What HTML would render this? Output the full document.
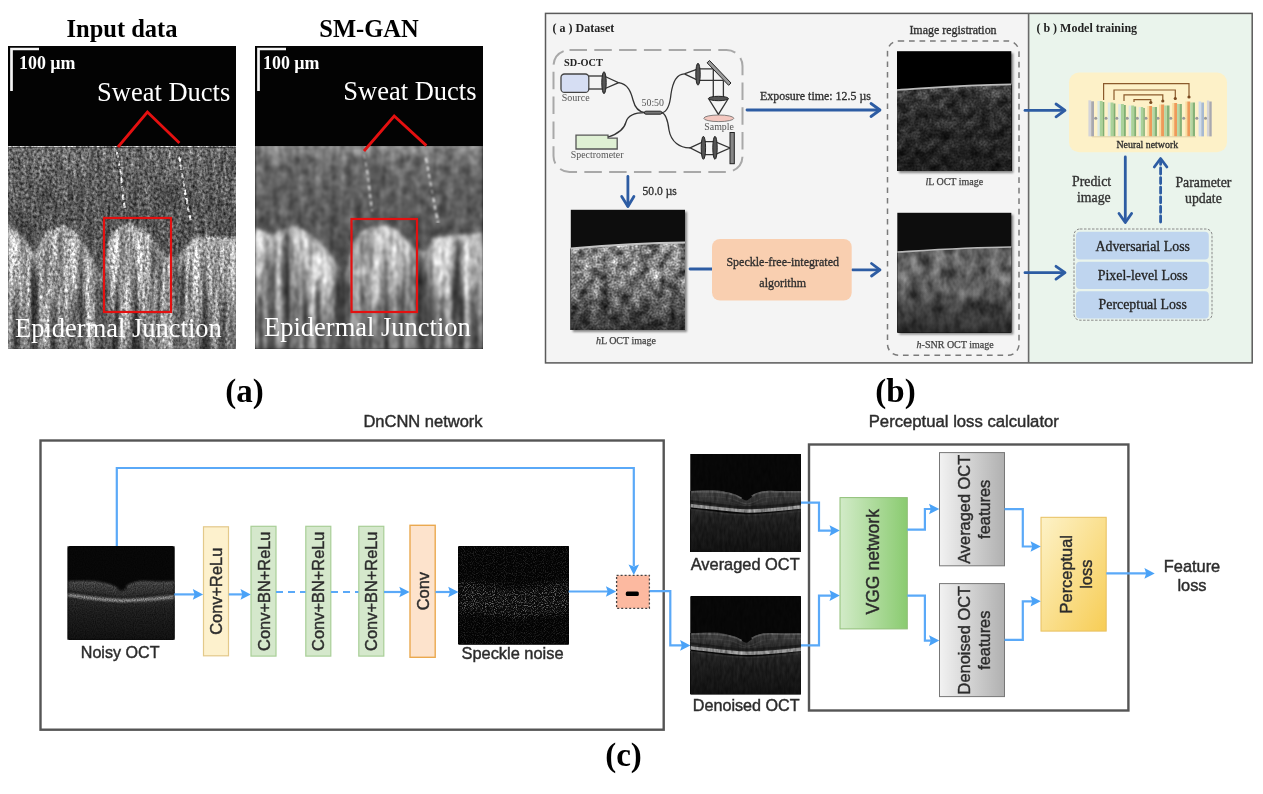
<!DOCTYPE html>
<html><head><meta charset="utf-8">
<style>
html,body{margin:0;padding:0;background:#fff;}
body{width:1263px;height:794px;overflow:hidden;position:relative;}
svg{position:absolute;left:0;top:0;filter:blur(0.35px);}
.serif{font-family:"Liberation Serif",serif;}
.sans{font-family:"Liberation Sans",sans-serif;}
</style></head>
<body>
<svg width="1263" height="794" viewBox="0 0 1263 794">
<defs>
  <filter id="fA" x="0" y="0" width="100%" height="100%" color-interpolation-filters="sRGB">
    <feTurbulence type="fractalNoise" baseFrequency="0.13 0.008" numOctaves="2" seed="7" result="t1"/>
    <feColorMatrix in="t1" type="matrix" values="1 0 0 0 0  1 0 0 0 0  1 0 0 0 0  0 0 0 0 1" result="g1"/>
    <feComposite in="SourceGraphic" in2="g1" operator="arithmetic" k1="1.9" k2="0.05" k3="0" k4="0" result="s1"/>
    <feTurbulence type="fractalNoise" baseFrequency="0.4 0.3" numOctaves="2" seed="3" result="t2"/>
    <feColorMatrix in="t2" type="matrix" values="1 0 0 0 0  1 0 0 0 0  1 0 0 0 0  0 0 0 0 1" result="g2"/>
    <feComposite in="s1" in2="g2" operator="arithmetic" k1="1.5" k2="0.25" k3="0" k4="0" result="s2"/>
    <feGaussianBlur in="s2" stdDeviation="0.6"/>
  </filter>
  <filter id="fAe" x="0" y="0" width="100%" height="100%" color-interpolation-filters="sRGB">
    <feTurbulence type="fractalNoise" baseFrequency="0.2 0.03" numOctaves="2" seed="17" result="t1"/>
    <feColorMatrix in="t1" type="matrix" values="1 0 0 0 0  1 0 0 0 0  1 0 0 0 0  0 0 0 0 1" result="g1"/>
    <feComposite in="SourceGraphic" in2="g1" operator="arithmetic" k1="0.8" k2="0.6" k3="0" k4="0" result="s1"/>
    <feTurbulence type="fractalNoise" baseFrequency="0.38 0.33" numOctaves="2" seed="3" result="t2"/>
    <feColorMatrix in="t2" type="matrix" values="1 0 0 0 0  1 0 0 0 0  1 0 0 0 0  0 0 0 0 1" result="g2"/>
    <feComposite in="s1" in2="g2" operator="arithmetic" k1="1.9" k2="0.05" k3="0" k4="0" result="s2"/>
    <feGaussianBlur in="s2" stdDeviation="0.55"/>
  </filter>
  <filter id="fA2" x="0" y="0" width="100%" height="100%" color-interpolation-filters="sRGB">
    <feTurbulence type="fractalNoise" baseFrequency="0.16 0.012" numOctaves="2" seed="7" result="t1"/>
    <feColorMatrix in="t1" type="matrix" values="1 0 0 0 0  1 0 0 0 0  1 0 0 0 0  0 0 0 0 1" result="g1"/>
    <feComposite in="SourceGraphic" in2="g1" operator="arithmetic" k1="0.45" k2="0.78" k3="0" k4="0" result="s1"/>
    <feTurbulence type="fractalNoise" baseFrequency="0.12 0.1" numOctaves="2" seed="13" result="t2"/>
    <feColorMatrix in="t2" type="matrix" values="1 0 0 0 0  1 0 0 0 0  1 0 0 0 0  0 0 0 0 1" result="g2"/>
    <feComposite in="s1" in2="g2" operator="arithmetic" k1="1.0" k2="0.5" k3="0" k4="0" result="s2"/>
    <feGaussianBlur in="s2" stdDeviation="0.9"/>
  </filter>
  <filter id="fB" x="0" y="0" width="100%" height="100%" color-interpolation-filters="sRGB">
    <feTurbulence type="fractalNoise" baseFrequency="0.11 0.007" numOctaves="2" seed="9" result="t1"/>
    <feColorMatrix in="t1" type="matrix" values="1 0 0 0 0  1 0 0 0 0  1 0 0 0 0  0 0 0 0 1" result="g1"/>
    <feComposite in="SourceGraphic" in2="g1" operator="arithmetic" k1="1.8" k2="0.1" k3="0" k4="0" result="s1"/>
    <feTurbulence type="fractalNoise" baseFrequency="0.2 0.1" numOctaves="2" seed="13" result="t2"/>
    <feColorMatrix in="t2" type="matrix" values="1 0 0 0 0  1 0 0 0 0  1 0 0 0 0  0 0 0 0 1" result="g2"/>
    <feComposite in="s1" in2="g2" operator="arithmetic" k1="0.8" k2="0.6" k3="0" k4="0" result="s2"/>
    <feGaussianBlur in="s2" stdDeviation="0.9"/>
  </filter>
  <filter id="fMott" x="0" y="0" width="100%" height="100%" color-interpolation-filters="sRGB">
    <feTurbulence type="fractalNoise" baseFrequency="0.1" numOctaves="3" seed="11" result="t1"/>
    <feColorMatrix in="t1" type="matrix" values="1 0 0 0 0  1 0 0 0 0  1 0 0 0 0  0 0 0 0 1" result="g1"/>
    <feComposite in="SourceGraphic" in2="g1" operator="arithmetic" k1="2.0" k2="0" k3="0" k4="0" result="s1"/>
    <feTurbulence type="fractalNoise" baseFrequency="0.5" numOctaves="1" seed="5" result="t2"/>
    <feColorMatrix in="t2" type="matrix" values="1 0 0 0 0  1 0 0 0 0  1 0 0 0 0  0 0 0 0 1" result="g2"/>
    <feComposite in="s1" in2="g2" operator="arithmetic" k1="1.1" k2="0.45" k3="0" k4="0" result="s2"/>
    <feGaussianBlur in="s2" stdDeviation="0.75"/>
  </filter>
  <filter id="fMottS" x="0" y="0" width="100%" height="100%" color-interpolation-filters="sRGB">
    <feTurbulence type="fractalNoise" baseFrequency="0.09 0.06" numOctaves="3" seed="12" result="t1"/>
    <feColorMatrix in="t1" type="matrix" values="1 0 0 0 0  1 0 0 0 0  1 0 0 0 0  0 0 0 0 1" result="g1"/>
    <feComposite in="SourceGraphic" in2="g1" operator="arithmetic" k1="1.5" k2="0.25" k3="0" k4="0" result="s1"/>
    <feGaussianBlur in="s1" stdDeviation="0.7"/>
  </filter>
  <filter id="fRet" x="0" y="0" width="100%" height="100%" color-interpolation-filters="sRGB">
    <feGaussianBlur in="SourceGraphic" stdDeviation="0.7" result="b"/>
    <feTurbulence type="fractalNoise" baseFrequency="0.35 0.12" numOctaves="2" seed="4" result="t1"/>
    <feColorMatrix in="t1" type="matrix" values="1 0 0 0 0  1 0 0 0 0  1 0 0 0 0  0 0 0 0 1" result="g1"/>
    <feComposite in="b" in2="g1" operator="arithmetic" k1="0.9" k2="0.55" k3="0" k4="0"/>
  </filter>
  <filter id="fRetN" x="0" y="0" width="100%" height="100%" color-interpolation-filters="sRGB">
    <feGaussianBlur in="SourceGraphic" stdDeviation="0.9" result="b"/>
    <feTurbulence type="fractalNoise" baseFrequency="0.9 0.7" numOctaves="1" seed="9" result="t1"/>
    <feColorMatrix in="t1" type="matrix" values="1 0 0 0 0  1 0 0 0 0  1 0 0 0 0  0 0 0 0 1" result="g1"/>
    <feComposite in="b" in2="g1" operator="arithmetic" k1="1.4" k2="0.3" k3="0" k4="0"/>
  </filter>
  <filter id="fSpk" x="0" y="0" width="100%" height="100%" color-interpolation-filters="sRGB">
    <feTurbulence type="fractalNoise" baseFrequency="0.9" numOctaves="1" seed="21" result="t1"/>
    <feColorMatrix in="t1" type="matrix" values="1 0 0 0 0  1 0 0 0 0  1 0 0 0 0  0 0 0 0 1" result="g1"/>
    <feComponentTransfer in="g1" result="g2"><feFuncR type="linear" slope="4.5" intercept="-2.2"/><feFuncG type="linear" slope="4.5" intercept="-2.2"/><feFuncB type="linear" slope="4.5" intercept="-2.2"/></feComponentTransfer>
    <feComposite in="SourceGraphic" in2="g2" operator="arithmetic" k1="2.2" k2="0.2" k3="0" k4="0" result="r"/>
    <feGaussianBlur in="r" stdDeviation="0.35"/>
  </filter>
  <linearGradient id="gChor" x1="0" y1="0" x2="0" y2="1">
    <stop offset="0" stop-color="#262626"/><stop offset="0.35" stop-color="#1c1c1c"/><stop offset="1" stop-color="#111"/>
  </linearGradient>
  <linearGradient id="gInner" x1="0" y1="0" x2="0" y2="1">
    <stop offset="0" stop-color="#3e3e3e"/><stop offset="0.5" stop-color="#313131"/><stop offset="1" stop-color="#1e1e1e"/>
  </linearGradient>
  <g id="retinaBase">
    <rect width="110" height="98" fill="#070707"/>
    <path d="M0,55 C30,57 45,62 56,61 C70,60 90,58 110,55 L110,98 L0,98Z" fill="url(#gChor)"/>
    <path d="M0,37 C10,36.5 20,36 28,36.5 C36,37.5 42,40 48,42.5 C51,44.5 54,46.5 56,46.5 C58,46 61,42.5 66,39.5 C70,37.2 74,36.5 80,36.8 C90,37.5 100,37.5 110,37 L110,52 C90,55 70,56.5 56,56.5 C40,56 20,52 0,49.5Z" fill="url(#gInner)"/>
    <path d="M1,37.8 C20,37 36,38.2 44,41 C47,42.3 49,43.5 51,44.5 M61,42.3 C66,39 72,37.4 80,37.6 C95,38.2 100,38 110,37.8" stroke="#565656" stroke-width="1.8" fill="none"/>
    <path d="M0,42 C15,42 30,42.5 40,44.5 C48,47 52,49.5 56,50 C62,49.5 66,46.5 72,44 C82,42 96,42.2 110,42" stroke="#3e3e3e" stroke-width="1.2" fill="none"/>
    <path d="M0,45 C15,45.5 30,46.5 40,48 C48,50 52,51.5 56,51.8 C62,51.5 66,50 72,48 C82,46 96,45.8 110,45.5" stroke="#353535" stroke-width="1" fill="none"/>
    <path d="M0,47.3 C20,49.3 35,51.8 50,53.3 C65,53.8 85,51.8 110,49.3" stroke="#1c1c1c" stroke-width="2" fill="none"/>
    <path d="M0,51.5 C20,53.5 38,56.5 56,57 C75,57 92,55 110,53" stroke="#8e8e8e" stroke-width="3.4" fill="none"/>
    <path d="M0,55.6 C20,58 38,60.6 56,61.1 C75,61.1 92,59.1 110,57.1" stroke="#2c2c2c" stroke-width="1.6" fill="none"/>
  </g>
  <linearGradient id="gSkinL" x1="0" y1="0" x2="0" y2="1">
    <stop offset="0" stop-color="#484848"/><stop offset="0.2" stop-color="#303030"/><stop offset="1" stop-color="#1e1e1e"/>
  </linearGradient>
  <linearGradient id="gSkinH" x1="0" y1="0" x2="0" y2="1">
    <stop offset="0" stop-color="#8a8a8a"/><stop offset="0.35" stop-color="#7a7a7a"/><stop offset="0.7" stop-color="#585858"/><stop offset="1" stop-color="#303030"/>
  </linearGradient>
  <linearGradient id="gSkinS" x1="0" y1="0" x2="0" y2="1">
    <stop offset="0" stop-color="#606060"/><stop offset="0.35" stop-color="#646464"/><stop offset="0.7" stop-color="#464646"/><stop offset="1" stop-color="#2a2a2a"/>
  </linearGradient>
  <linearGradient id="bandG" x1="0" y1="0" x2="0" y2="1"><stop offset="0" stop-color="#3c3c3c" stop-opacity="0"/><stop offset="0.3" stop-color="#3c3c3c" stop-opacity="1"/><stop offset="1" stop-color="#3c3c3c" stop-opacity="0.9"/></linearGradient>
  <linearGradient id="bandG2" x1="0" y1="0" x2="0" y2="1"><stop offset="0" stop-color="#4a4a4a" stop-opacity="0"/><stop offset="0.3" stop-color="#4a4a4a" stop-opacity="1"/><stop offset="1" stop-color="#4a4a4a" stop-opacity="0.9"/></linearGradient>
  <filter id="blur3" x="-10%" y="-30%" width="120%" height="160%"><feGaussianBlur stdDeviation="3.5"/></filter>
  <filter id="blur15" x="-5%" y="-5%" width="110%" height="110%"><feGaussianBlur stdDeviation="1.8"/></filter>
  <filter id="shadow" x="-10%" y="-10%" width="125%" height="125%">
    <feGaussianBlur in="SourceAlpha" stdDeviation="1.2"/>
    <feOffset dx="1.5" dy="1.5" result="o"/>
    <feComponentTransfer in="o" result="o2"><feFuncA type="linear" slope="0.45"/></feComponentTransfer>
    <feMerge><feMergeNode in="o2"/><feMergeNode in="SourceGraphic"/></feMerge>
  </filter>
  <linearGradient id="dermA" x1="0" y1="0" x2="0" y2="1">
    <stop offset="0" stop-color="#b4b4b4"/><stop offset="0.45" stop-color="#9a9a9a"/><stop offset="1" stop-color="#787878"/>
  </linearGradient>
  <linearGradient id="epiA" x1="0" y1="0" x2="0" y2="1">
    <stop offset="0" stop-color="#6c6c6c"/><stop offset="0.25" stop-color="#585858"/><stop offset="1" stop-color="#505050"/>
  </linearGradient>
  <linearGradient id="dermB" x1="0" y1="0" x2="0" y2="1">
    <stop offset="0" stop-color="#bcbcbc"/><stop offset="0.45" stop-color="#a0a0a0"/><stop offset="1" stop-color="#7a7a7a"/>
  </linearGradient>
  <linearGradient id="epiB" x1="0" y1="0" x2="0" y2="1">
    <stop offset="0" stop-color="#8c8c8c"/><stop offset="0.07" stop-color="#6a6a6a"/><stop offset="0.3" stop-color="#5c5c5c"/><stop offset="0.5" stop-color="#505050"/><stop offset="1" stop-color="#4a4a4a"/>
  </linearGradient>
</defs>

<!-- ============ PANEL A ============ -->
<g id="panelA">
  <text x="122" y="36.5" class="serif" font-weight="bold" font-size="24.5" text-anchor="middle">Input data</text>
  <text x="369" y="36.5" class="serif" font-weight="bold" font-size="24.5" text-anchor="middle">SM-GAN</text>

  <!-- left OCT -->
  <defs>
    <g id="baseL">
      <rect x="0" y="100" width="228" height="203" fill="url(#epiA)"/>
      <g filter="url(#blur15)">
        <path d="M0.0,177.4 C2.3,179.5 9.5,185.2 14.0,190.0 C18.5,194.8 23.7,206.2 27.0,206.5 C30.3,206.8 31.5,195.6 34.0,192.0 C36.5,188.4 37.3,186.8 42.0,185.0 C46.7,183.2 55.5,177.4 62.0,181.0 C68.5,184.6 75.8,198.7 81.0,206.5 C86.2,214.3 89.8,228.9 93.0,227.8 C96.2,226.7 97.8,207.0 100.0,200.0 C102.2,193.0 102.7,189.8 106.0,186.0 C109.3,182.2 114.5,177.2 120.0,177.4 C125.5,177.6 132.5,181.6 139.0,187.0 C145.5,192.4 153.2,206.8 159.0,210.0 C164.8,213.2 170.2,208.8 174.0,206.5 C177.8,204.2 179.3,198.6 182.0,196.0 C184.7,193.4 182.3,191.8 190.0,191.0 C197.7,190.2 221.7,191.0 228.0,191.0 L228,303 L0,303Z" fill="url(#dermA)"/>
        <g fill="url(#bandG2)" opacity="0.8">
          <rect x="22" y="205" width="10" height="98"/><rect x="86" y="222" width="15" height="81"/>
          <rect x="106" y="240" width="5" height="63"/><rect x="166" y="205" width="12" height="98"/>
          <rect x="146" y="250" width="5" height="53"/><rect x="64" y="240" width="6" height="63"/>
          <rect x="198" y="235" width="5" height="68"/><rect x="44" y="250" width="4" height="53"/><rect x="214" y="245" width="4" height="58"/><rect x="4" y="240" width="4" height="63"/><rect x="52" y="255" width="4" height="48"/><rect x="74" y="245" width="5" height="58"/><rect x="127" y="250" width="4" height="53"/><rect x="185" y="250" width="4" height="53"/><rect x="223" y="250" width="3" height="53"/>
        </g>
      </g>
    </g>
    <mask id="mDermL" maskUnits="userSpaceOnUse" x="0" y="0" width="228" height="303">
      <path d="M0.0,177.4 C2.3,179.5 9.5,185.2 14.0,190.0 C18.5,194.8 23.7,206.2 27.0,206.5 C30.3,206.8 31.5,195.6 34.0,192.0 C36.5,188.4 37.3,186.8 42.0,185.0 C46.7,183.2 55.5,177.4 62.0,181.0 C68.5,184.6 75.8,198.7 81.0,206.5 C86.2,214.3 89.8,228.9 93.0,227.8 C96.2,226.7 97.8,207.0 100.0,200.0 C102.2,193.0 102.7,189.8 106.0,186.0 C109.3,182.2 114.5,177.2 120.0,177.4 C125.5,177.6 132.5,181.6 139.0,187.0 C145.5,192.4 153.2,206.8 159.0,210.0 C164.8,213.2 170.2,208.8 174.0,206.5 C177.8,204.2 179.3,198.6 182.0,196.0 C184.7,193.4 182.3,191.8 190.0,191.0 C197.7,190.2 221.7,191.0 228.0,191.0 L228,303 L0,303Z" fill="#fff" transform="translate(0,4)" filter="url(#blur3)"/>
    </mask>
  </defs>
  <g transform="translate(8,46)">
    <rect width="228" height="303" fill="#030303"/>
    <g filter="url(#fAe)"><use href="#baseL"/></g>
    <g mask="url(#mDermL)"><g filter="url(#fA)"><use href="#baseL"/></g></g>
    <g filter="url(#fAe)">
      <path d="M0,100 L228,100" stroke="#a8a8a8" stroke-width="2.4"/>
      <g stroke="#bdbdbd" stroke-width="2.6" fill="none" stroke-dasharray="6 2.5">
        <path d="M109,106 L113,130 L117,165"/>
        <path d="M171,110 L176,140 L183,177"/>
      </g>
    </g>
  </g>

  <!-- right OCT -->
  <defs>
    <g id="baseR">
      <rect x="0" y="100" width="228" height="203" fill="url(#epiB)"/>
      <g filter="url(#blur15)">
        <path d="M0.0,181.0 C1.5,181.8 6.2,184.7 9.0,186.0 C11.8,187.3 14.3,189.2 16.5,189.0 C18.7,188.8 20.1,186.0 22.0,185.0 C23.9,184.0 24.4,183.7 28.0,183.0 C31.6,182.3 37.2,178.4 43.7,181.0 C50.2,183.6 59.3,191.2 67.0,198.7 C74.7,206.2 85.2,225.1 90.0,226.0 C94.8,226.9 94.0,209.8 96.0,204.0 C98.0,198.2 98.5,194.8 102.0,191.0 C105.5,187.2 111.2,182.7 117.0,181.0 C122.8,179.3 131.2,178.7 137.0,181.0 C142.8,183.3 146.8,190.8 152.0,195.0 C157.2,199.2 164.0,206.2 168.0,206.5 C172.0,206.8 173.5,199.6 176.0,197.0 C178.5,194.4 174.3,192.7 183.0,191.0 C191.7,189.3 220.5,187.7 228.0,187.0 L228,303 L0,303Z" fill="url(#dermB)"/>
        <g fill="url(#bandG)" opacity="0.85">
          <rect x="12" y="190" width="9" height="113"/><rect x="80" y="215" width="16" height="88"/>
          <rect x="104" y="228" width="6" height="75"/><rect x="160" y="200" width="14" height="103"/>
          <rect x="140" y="232" width="6" height="71"/><rect x="60" y="228" width="7" height="75"/>
          <rect x="196" y="222" width="7" height="81"/><rect x="36" y="240" width="5" height="63"/>
          <rect x="215" y="238" width="5" height="65"/><rect x="122" y="245" width="4" height="58"/><rect x="3" y="240" width="4" height="63"/><rect x="48" y="250" width="4" height="53"/><rect x="130" y="240" width="4" height="63"/><rect x="184" y="250" width="4" height="53"/><rect x="206" y="245" width="4" height="58"/>
        </g>
      </g>
    </g>
    <mask id="mDermR" maskUnits="userSpaceOnUse" x="0" y="0" width="228" height="303">
      <path d="M0.0,181.0 C1.5,181.8 6.2,184.7 9.0,186.0 C11.8,187.3 14.3,189.2 16.5,189.0 C18.7,188.8 20.1,186.0 22.0,185.0 C23.9,184.0 24.4,183.7 28.0,183.0 C31.6,182.3 37.2,178.4 43.7,181.0 C50.2,183.6 59.3,191.2 67.0,198.7 C74.7,206.2 85.2,225.1 90.0,226.0 C94.8,226.9 94.0,209.8 96.0,204.0 C98.0,198.2 98.5,194.8 102.0,191.0 C105.5,187.2 111.2,182.7 117.0,181.0 C122.8,179.3 131.2,178.7 137.0,181.0 C142.8,183.3 146.8,190.8 152.0,195.0 C157.2,199.2 164.0,206.2 168.0,206.5 C172.0,206.8 173.5,199.6 176.0,197.0 C178.5,194.4 174.3,192.7 183.0,191.0 C191.7,189.3 220.5,187.7 228.0,187.0 L228,303 L0,303Z" fill="#fff" transform="translate(0,4)" filter="url(#blur3)"/>
    </mask>
  </defs>
  <g transform="translate(255,46)">
    <rect width="228" height="303" fill="#030303"/>
    <g filter="url(#fA2)"><use href="#baseR"/></g>
    <g mask="url(#mDermR)"><g filter="url(#fB)"><use href="#baseR"/></g></g>
    <g filter="url(#fA2)">
      <path d="M0,100.5 L228,100.5" stroke="#bcbcbc" stroke-width="2"/>
      <g stroke="#dcdcdc" stroke-width="2.2" fill="none" stroke-dasharray="5 3">
        <path d="M109,108 L113,130 L117,165"/>
        <path d="M171,112 L176,140 L183,177"/>
      </g>
    </g>
  </g>

  <!-- overlays left -->
  <g fill="none" stroke="#f4f4f4" stroke-width="2.7">
    <path d="M11.5,91 L11.5,49 L39,49"/>
    <path d="M258.5,91 L258.5,49 L286,49"/>
  </g>
  <g class="serif" fill="#fff">
    <text x="19" y="68.5" font-weight="bold" font-size="17.9">100 µm</text>
    <text x="263" y="68.5" font-weight="bold" font-size="17.9">100 µm</text>
    <text x="97" y="100.8" font-size="26.5">Sweat Ducts</text>
    <text x="343.3" y="99.5" font-size="26.5">Sweat Ducts</text>
    <text x="15" y="337" font-size="26.5">Epidermal Junction</text>
    <text x="264" y="335.8" font-size="26.5">Epidermal Junction</text>
  </g>
  <g fill="none" stroke="#e41010" stroke-width="2.8">
    <path d="M118,147 L147.4,112 L179.4,143"/>
    <path d="M364,151 L394.2,116 L426.4,145.6"/>
    <rect x="104" y="218" width="67" height="94" stroke-width="2.2"/>
    <rect x="351.5" y="219" width="65.5" height="93" stroke-width="2.2"/>
  </g>
  <text x="244.5" y="402" class="serif" font-weight="bold" font-size="33" text-anchor="middle">(a)</text>
</g>

<!-- ============ PANEL B ============ -->
<g id="panelB">
  <style>#panelB text{stroke:#2a2a2a;stroke-width:0.3px;} #panelB text[fill="#555"]{stroke:none;} #panelB text[fill="#444"]{stroke:#444;stroke-width:0.25px;} #panelB text[font-weight="bold"]{stroke:none;}</style>
  <rect x="545.5" y="13.4" width="483.1" height="349.5" fill="#f4f4f4"/>
  <rect x="1028.6" y="13.4" width="223.6" height="349.5" fill="#eaf4ec"/>
  <rect x="545.5" y="13.4" width="706.7" height="349.5" fill="none" stroke="#5a5a5a" stroke-width="1.5"/>
  <line x1="1028.6" y1="13.5" x2="1028.6" y2="363" stroke="#6a6a6a" stroke-width="1.6"/>
  <text x="552.6" y="32" class="serif" font-weight="bold" font-size="12" fill="#222">( a ) Dataset</text>
  <text x="1036.4" y="32.3" class="serif" font-weight="bold" font-size="12" fill="#222">( b ) Model training</text>
  <!-- SD-OCT dashed box -->
  <rect x="553.5" y="50" width="189" height="122" rx="16" fill="none" stroke="#a8a8a8" stroke-width="2" stroke-dasharray="17.5 7.3"/>
  <text x="564" y="65.8" class="serif" font-weight="bold" font-size="10.3" fill="#222">SD-OCT</text>
  <rect x="561" y="74" width="27.8" height="18.4" rx="3.5" fill="#d6def3" stroke="#444" stroke-width="1.3"/>
  <text x="561.8" y="101.4" class="serif" font-size="10" fill="#555">Source</text>
  <path d="M576,135.2 L608,135.2 L608,138.2 L617.2,138.2 L617.2,149 L576,149Z" fill="#dff0d4" stroke="#555" stroke-width="1.3"/>
  <text x="570.8" y="157.5" class="serif" font-size="9.9" fill="#555">Spectrometer</text>
  <text x="641.5" y="105.7" class="serif" font-size="9.9" fill="#555">50:50</text>
  <text x="704.3" y="130" class="serif" font-size="9.9" fill="#555">Sample</text>
  <g fill="none" stroke="#333" stroke-width="1.3">
    <!-- source beam -->
    <line x1="588.8" y1="76" x2="604" y2="76"/><line x1="588.8" y1="89" x2="604" y2="89"/>
    <path d="M604,76 L618.6,82.7 L604,89"/>
    <!-- fibers -->
    <path d="M618.6,82.7 C628,84 631,92 633,100 C635,108 639,112 645,112.7"/>
    <path d="M608,137 C618,134 624,130 626,122 C628,115 636,112.7 645,112.7"/>
    <path d="M661.8,112.7 C668,112 670,104 671,94 C673,80 678,74 684.3,73.8"/>
    <path d="M661.8,112.7 C666,114 668,122 669,130 C671,142 680,148 690,147.8"/>
    <!-- sample arm -->
    <path d="M684.3,73.8 L698,68.8 L713.3,68.8 M684.3,73.8 L698,80.4 L723.4,80.4"/>
    <path d="M713.3,68.8 L713.3,98.5 M723.4,80.4 L723.4,98.5"/>
    <path d="M708.5,98.5 L718.4,114.4 L728.3,98.5"/>
    <!-- ref arm -->
    <path d="M690,147.8 L703.4,141.7 L715,141.7 L730,148 L715,154.7 L703.4,154.7 Z"/>
  </g>
  <g fill="#555" stroke="#222" stroke-width="1">
    <ellipse cx="698" cy="74.2" rx="2.2" ry="11"/>
    <ellipse cx="604" cy="82.7" rx="2.2" ry="11"/>
    <ellipse cx="718.4" cy="98.5" rx="10" ry="2.2"/>
    <ellipse cx="703.4" cy="147.8" rx="2.2" ry="11.5"/>
    <ellipse cx="715" cy="147.8" rx="2.2" ry="11.5"/>
    <rect x="644.4" y="111.2" width="17.4" height="3" rx="1.5" fill="#777"/>
    <rect x="730" y="132.5" width="4.3" height="31.2" fill="#888"/>
    <path d="M709.5,60.5 L731,83 L728.6,85.3 L707.1,62.8Z" fill="#9a9a9a"/>
  </g>
  <ellipse cx="718.8" cy="118.3" rx="15" ry="3.3" fill="#f4c8c0" stroke="#666" stroke-width="0.8"/>

  <!-- arrows (dark blue) -->
  <g fill="none" stroke="#2d5ca3" stroke-width="2.8" stroke-linecap="round" stroke-linejoin="round">
    <line x1="747" y1="110" x2="879" y2="110"/><path d="M871,103.5 L880,110 L871,116.5"/>
    <line x1="627.9" y1="176.5" x2="627.9" y2="206"/><path d="M621.7,196.5 L627.9,206.5 L633.9,196.5"/>
    <line x1="690" y1="269" x2="712" y2="269"/>
    <line x1="852.5" y1="269.8" x2="879" y2="269.8"/><path d="M871.5,263.5 L880,269.8 L871.5,276"/>
    <line x1="1025" y1="110.4" x2="1063" y2="110.4"/><path d="M1056,104 L1065,110.4 L1056,116.8"/>
    <line x1="1025" y1="272.7" x2="1063" y2="272.7"/><path d="M1056,266.3 L1065,272.7 L1056,279.1"/>
    <line x1="1125.3" y1="157" x2="1125.3" y2="221"/><path d="M1119,213.5 L1125.3,222.5 L1131.6,213.5"/>
    <line x1="1160.6" y1="222" x2="1160.6" y2="160" stroke-dasharray="6 3.6"/><path d="M1154.3,167 L1160.6,158.5 L1166.9,167"/>
  </g>
  <text x="760" y="99.7" class="serif" font-size="11.95" fill="#333">Exposure time: 12.5 µs</text>
  <text x="642.6" y="195" class="serif" font-size="11.55" fill="#333">50.0 µs</text>

  <!-- OCT images b -->
  <g filter="url(#shadow)">
    <rect x="570.8" y="209.8" width="114.2" height="120.2" fill="#080808"/>
    <rect x="897" y="51.2" width="114.3" height="119.8" fill="#060606"/>
    <rect x="897.3" y="212.8" width="114" height="119.7" fill="#0a0a0a"/>
  </g>
  <g filter="url(#fMott)">
    <path d="M570.8,248.5 C600,246 640,243 685,242.5 L685,330 L570.8,330Z" fill="url(#gSkinH)"/>
  </g>
  <path d="M570.8,248.5 C600,246 640,243 685,242.5" stroke="#c4c4c4" stroke-width="1.8" fill="none"/>
  <g filter="url(#fMott)">
    <path d="M897,90 C930,88 960,85 1011.3,84.3 L1011.3,171 L897,171Z" fill="url(#gSkinL)"/>
  </g>
  <path d="M897,90 C930,88 960,85 1011.3,84.3" stroke="#bbb" stroke-width="1.7" fill="none"/>
  <g filter="url(#fMottS)">
    <path d="M897.3,252 C930,250 965,247.5 1011.3,247 L1011.3,332.5 L897.3,332.5Z" fill="url(#gSkinS)"/>
  </g>
  <path d="M897.3,252 C930,250 965,247.5 1011.3,247" stroke="#b8b8b8" stroke-width="1.7" fill="none"/>

  <!-- orange box -->
  <rect x="712" y="239" width="139.7" height="61.6" rx="8" fill="#f9cfb0"/>
  <text x="782.7" y="266.4" class="serif" font-size="12" fill="#333" text-anchor="middle">Speckle-free-integrated</text>
  <text x="782.7" y="287" class="serif" font-size="12" fill="#333" text-anchor="middle">algorithm</text>

  <!-- image registration -->
  <text x="909.4" y="34" class="serif" font-size="11.95" fill="#333">Image registration</text>
  <rect x="887.5" y="41" width="131.5" height="314.3" rx="11" fill="none" stroke="#7a7a7a" stroke-width="1.5" stroke-dasharray="5.7 4.8"/>
  <text x="925.4" y="184.6" class="serif" font-size="10" fill="#444"><tspan font-style="italic">l</tspan>L OCT image</text>
  <text x="916.6" y="348" class="serif" font-size="10" fill="#444"><tspan font-style="italic">h</tspan>-SNR OCT image</text>
  <text x="595.9" y="344" class="serif" font-size="10" fill="#444"><tspan font-style="italic">h</tspan>L OCT image</text>

  <!-- neural network -->
  <rect x="1069" y="72.6" width="158" height="79.7" rx="10" fill="#fdf1c8"/>
  <text x="1147.3" y="148" class="serif" font-size="9.9" fill="#333" text-anchor="middle">Neural network</text>
  <g fill="none" stroke="#8b5a2b" stroke-width="1.2">
    <path d="M1103.6,100 L1103.6,83.7 L1189,83.7 L1189,96"/>
    <path d="M1114,100 L1114,90 L1175.3,90 L1175.3,98"/>
    <path d="M1124,101 L1124,94.8 L1162.8,94.8 L1162.8,100"/>
    <path d="M1134,102 L1134,99.6 L1150.8,99.6 L1150.8,102"/>
  </g>
  <g fill="#7a4a20">
    <circle cx="1189" cy="97" r="1.6"/><circle cx="1175.3" cy="98.5" r="1.6"/><circle cx="1162.8" cy="101" r="1.6"/><circle cx="1150.8" cy="102.5" r="1.6"/>
  </g>
  <g id="nnlayers"><rect x="1088.4" y="100.3" width="2.8" height="36.1" fill="#d4d4da"/><rect x="1091.2" y="101.3" width="2.8" height="35.1" fill="#a8a8b0"/><rect x="1097.4" y="101.0" width="2.4" height="35.4" fill="#dbe8e6"/><rect x="1099.8" y="101.0" width="2.8" height="35.4" fill="#a9d29a"/><rect x="1102.6" y="102.0" width="1.7" height="34.4" fill="#7fae72"/><rect x="1107.8" y="102.5" width="2.7" height="33.9" fill="#dbe8e6"/><rect x="1110.5" y="102.5" width="3.0" height="33.9" fill="#a9d29a"/><rect x="1113.5" y="103.5" width="1.9" height="32.9" fill="#7fae72"/><rect x="1118.2" y="104.0" width="2.7" height="32.4" fill="#dbe8e6"/><rect x="1120.9" y="104.0" width="3.0" height="32.4" fill="#a9d29a"/><rect x="1123.9" y="105.0" width="1.9" height="31.4" fill="#7fae72"/><rect x="1128.6" y="105.5" width="2.6" height="30.9" fill="#dbe8e6"/><rect x="1131.2" y="105.5" width="3.0" height="30.9" fill="#a9d29a"/><rect x="1134.2" y="106.5" width="1.9" height="29.9" fill="#7fae72"/><rect x="1138.7" y="107.0" width="2.1" height="29.4" fill="#dbe8e6"/><rect x="1140.8" y="107.0" width="2.4" height="29.4" fill="#a9d29a"/><rect x="1143.3" y="108.0" width="1.5" height="28.4" fill="#7fae72"/><rect x="1147.3" y="106.0" width="1.9" height="30.4" fill="#f7dca0"/><rect x="1149.2" y="106.0" width="2.9" height="30.4" fill="#ee9a5a"/><rect x="1152.2" y="107.0" width="2.4" height="29.4" fill="#b5d7a5"/><rect x="1154.6" y="107.0" width="2.4" height="29.4" fill="#86b278"/><rect x="1159.0" y="104.5" width="2.1" height="31.9" fill="#f7dca0"/><rect x="1161.1" y="104.5" width="3.1" height="31.9" fill="#ee9a5a"/><rect x="1164.2" y="105.5" width="2.6" height="30.9" fill="#b5d7a5"/><rect x="1166.9" y="105.5" width="2.6" height="30.9" fill="#86b278"/><rect x="1172.2" y="103.0" width="2.0" height="33.4" fill="#f7dca0"/><rect x="1174.2" y="103.0" width="2.9" height="33.4" fill="#ee9a5a"/><rect x="1177.1" y="104.0" width="2.4" height="32.4" fill="#b5d7a5"/><rect x="1179.5" y="104.0" width="2.4" height="32.4" fill="#86b278"/><rect x="1185.4" y="101.5" width="1.9" height="34.9" fill="#f7dca0"/><rect x="1187.3" y="101.5" width="2.9" height="34.9" fill="#ee9a5a"/><rect x="1190.2" y="102.5" width="2.4" height="33.9" fill="#b5d7a5"/><rect x="1192.6" y="102.5" width="2.4" height="33.9" fill="#86b278"/><rect x="1198.6" y="101.5" width="2.7" height="34.9" fill="#cfdced"/><rect x="1201.3" y="102.5" width="2.7" height="33.9" fill="#a7b9d2"/><rect x="1206.9" y="100.5" width="2.4" height="35.9" fill="#d4d4da"/><rect x="1209.3" y="101.5" width="2.4" height="34.9" fill="#a8a8b0"/><circle cx="1095.7" cy="118.3" r="1.5" fill="#9a9a9a"/><circle cx="1106.0" cy="118.3" r="1.5" fill="#9a9a9a"/><circle cx="1116.8" cy="118.3" r="1.5" fill="#9a9a9a"/><circle cx="1127.2" cy="118.3" r="1.5" fill="#9a9a9a"/><circle cx="1137.3" cy="118.3" r="1.5" fill="#9a9a9a"/><circle cx="1146.0" cy="118.3" r="1.5" fill="#9a9a9a"/><circle cx="1158.0" cy="118.3" r="1.5" fill="#9a9a9a"/><circle cx="1170.8" cy="118.3" r="1.5" fill="#9a9a9a"/><circle cx="1183.7" cy="118.3" r="1.5" fill="#9a9a9a"/><circle cx="1196.8" cy="118.3" r="1.5" fill="#9a9a9a"/><circle cx="1205.5" cy="118.3" r="1.5" fill="#9a9a9a"/><line x1="1092" y1="136.8" x2="1196" y2="136.8" stroke="#d9c9a0" stroke-width="0.8"/></g>

  <text x="1091.6" y="186.1" class="serif" font-size="13.8" fill="#333" text-anchor="middle">Predict</text>
  <text x="1093.8" y="201.7" class="serif" font-size="13.8" fill="#333" text-anchor="middle">image</text>
  <text x="1203.4" y="186.8" class="serif" font-size="13.8" fill="#333" text-anchor="middle">Parameter</text>
  <text x="1203.4" y="202.8" class="serif" font-size="13.8" fill="#333" text-anchor="middle">update</text>

  <!-- loss box -->
  <rect x="1074" y="229" width="138" height="91.2" rx="6" fill="none" stroke="#888" stroke-width="1" stroke-dasharray="2.5 1.5"/>
  <g fill="#bfd5ef">
    <rect x="1076" y="231.7" width="132.8" height="27.8" rx="4"/>
    <rect x="1076" y="261.7" width="132.8" height="27.3" rx="4"/>
    <rect x="1076" y="291.2" width="132.8" height="27.2" rx="4"/>
  </g>
  <g class="serif" font-size="13.9" fill="#222" text-anchor="middle">
    <text x="1142.7" y="251">Adversarial Loss</text>
    <text x="1142.7" y="279.9">Pixel-level Loss</text>
    <text x="1142.7" y="309.4">Perceptual Loss</text>
  </g>
  <text x="895.5" y="402" class="serif" font-weight="bold" font-size="33" text-anchor="middle">(b)</text>
</g>

<!-- ============ PANEL C ============ -->
<g id="panelC">
  <style>#panelC .sans text, #panelC text.sans{stroke:#333;stroke-width:0.45px;fill:#2a2a2a;}</style>
  <text x="423" y="427.3" class="sans" font-size="16.5" fill="#333" text-anchor="middle">DnCNN network</text>
  <rect x="40.5" y="440.5" width="623.2" height="289.2" fill="none" stroke="#555" stroke-width="2.4"/>
  <rect x="809" y="444.5" width="319.4" height="266" fill="none" stroke="#555" stroke-width="2.4"/>
  <text x="963.8" y="426.5" class="sans" font-size="16.7" fill="#333" text-anchor="middle">Perceptual loss calculator</text>
  <!-- boxes -->
  <rect x="203.5" y="526.8" width="25" height="129" fill="#fdf1cd" stroke="#e3c98a" stroke-width="1.2"/>
  <g fill="#d5e8cc" stroke="#a9cf97" stroke-width="1.2">
    <rect x="251" y="526.3" width="25" height="129.8"/>
    <rect x="305.8" y="526.3" width="25" height="129.8"/>
    <rect x="358.8" y="526.3" width="25" height="129.8"/>
  </g>
  <rect x="410" y="525.3" width="25.2" height="132" fill="#fde3cc" stroke="#eaa94f" stroke-width="1.4"/>
  <g class="sans" font-size="16.4" fill="#222" text-anchor="middle">
    <text transform="translate(222,591.2) rotate(-90)">Conv+ReLu</text>
    <text transform="translate(269.5,591.2) rotate(-90)">Conv+BN+ReLu</text>
    <text transform="translate(324.3,591.2) rotate(-90)">Conv+BN+ReLu</text>
    <text transform="translate(377.3,591.2) rotate(-90)">Conv+BN+ReLu</text>
    <text transform="translate(428.6,591.2) rotate(-90)">Conv</text>
  </g>
  <!-- retina images -->
  <g filter="url(#fRetN)"><use href="#retinaBase" transform="translate(67.9,546.2) scale(0.967,0.957)"/></g>
  <g filter="url(#fRet)"><use href="#retinaBase" transform="translate(690.5,454) scale(1.0036,0.9995)"/></g>
  <g filter="url(#fRet)"><use href="#retinaBase" transform="translate(690.5,596.3) scale(1.0036,0.9995)"/></g>
  <rect x="458.5" y="546.5" width="110.2" height="97.8" fill="#050505"/>
  <g filter="url(#fSpk)">
    <rect x="458.5" y="546.5" width="110.2" height="97.8" fill="#0e0e0e"/>
    <g filter="url(#blur3)"><path d="M458.5,582 C480,583 500,588 513,590 C530,588 550,584 568.7,582 L568.7,612 C550,614 530,616 513,617 C490,615 475,612 458.5,611Z" fill="#2c2c2c"/></g>
  </g>
  <!-- minus node -->
  <rect x="616.6" y="575.3" width="32.8" height="33" fill="#fcb9a0" stroke="#444" stroke-width="1.3" stroke-dasharray="2 2"/>
  <rect x="625.8" y="591.5" width="13" height="4.4" rx="1.5" fill="#000"/>
  <!-- vgg / features / perceptual -->
  <defs>
    <linearGradient id="gVGG" x1="0" y1="0" x2="1" y2="0"><stop offset="0" stop-color="#d2ebc8"/><stop offset="1" stop-color="#8acb70"/></linearGradient>
    <linearGradient id="gFeat" x1="0" y1="0" x2="1" y2="0"><stop offset="0" stop-color="#f2f2f2"/><stop offset="1" stop-color="#b0b0b0"/></linearGradient>
    <linearGradient id="gPerc" x1="0" y1="0" x2="1" y2="1"><stop offset="0" stop-color="#fdf2c8"/><stop offset="1" stop-color="#f7cd55"/></linearGradient>
  </defs>
  <rect x="840" y="497.6" width="67.3" height="131.3" fill="url(#gVGG)" stroke="#8fbf77" stroke-width="1"/>
  <rect x="939.5" y="452.6" width="65" height="113.2" fill="url(#gFeat)" stroke="#777" stroke-width="1"/>
  <rect x="939.5" y="583.6" width="65" height="113" fill="url(#gFeat)" stroke="#777" stroke-width="1"/>
  <rect x="1041" y="517.3" width="65.2" height="113.8" fill="url(#gPerc)" stroke="#e8c060" stroke-width="1"/>
  <g class="sans" font-size="16.4" fill="#222" text-anchor="middle">
    <text transform="translate(879.4,561.8) rotate(-90)" font-size="17.6">VGG network</text>
    <text transform="translate(970,509.3) rotate(-90)">Averaged OCT</text>
    <text transform="translate(989.6,509.3) rotate(-90)">features</text>
    <text transform="translate(970,640.2) rotate(-90)">Denoised OCT</text>
    <text transform="translate(989.6,640.2) rotate(-90)">features</text>
    <text transform="translate(1072,574.2) rotate(-90)">Perceptual</text>
    <text transform="translate(1091.6,574.2) rotate(-90)">loss</text>
  </g>
  <g class="sans" font-size="16.4" fill="#222">
    <text x="80.8" y="658" font-size="16.1">Noisy OCT</text>
    <text x="461.5" y="658.7">Speckle noise</text>
    <text x="690.7" y="570.4">Averaged OCT</text>
    <text x="692.8" y="711" font-size="16.15">Denoised OCT</text>
    <text x="1192" y="572" text-anchor="middle">Feature</text>
    <text x="1192" y="590.6" text-anchor="middle">loss</text>
  </g>
  <!-- blue connectors -->
  <g fill="none" stroke="#5aa9f8" stroke-width="2.2">
    <path d="M116.8,546 L116.8,468 L633.8,468 L633.8,566"/>
    <path d="M174.3,594.4 L195,594.4"/>
    <path d="M228.8,594.4 L243,594.4"/>
    <path d="M276,592 L305.5,592 M331,592 L358.5,592" stroke-dasharray="7 5"/>
    <path d="M384,592 L402,592"/>
    <path d="M435.5,592 L451,592"/>
    <path d="M568.7,591.5 L608.5,591.5"/>
    <path d="M649.7,591.2 L670.3,591.2 L670.3,645.4 L682.5,645.4"/>
    <path d="M801,502.7 L819,502.7 L819,530.6 L832,530.6"/>
    <path d="M801,645.3 L819,645.3 L819,595.6 L832,595.6"/>
    <path d="M907.3,529.7 L924.9,529.7 L924.9,509 L931.5,509"/>
    <path d="M907.3,595.6 L924.9,595.6 L924.9,640.6 L931.5,640.6"/>
    <path d="M1004.5,509.2 L1022.8,509.2 L1022.8,546.5 L1033,546.5"/>
    <path d="M1004.5,639.8 L1022.8,639.8 L1022.8,601.3 L1033,601.3"/>
    <path d="M1106.3,573.4 L1147,573.4"/>
  </g>
  <g fill="#4aa2f7">
    <path d="M203.1,594.4 l-10.3,-5.3 l1.8,5.3 l-1.8,5.3z"/>
    <path d="M250.8,594.4 l-10.3,-5.3 l1.8,5.3 l-1.8,5.3z"/>
    <path d="M409.6,592 l-10.3,-5.3 l1.8,5.3 l-1.8,5.3z"/>
    <path d="M458.5,592 l-10.3,-5.3 l1.8,5.3 l-1.8,5.3z"/>
    <path d="M616.2,591.5 l-10.3,-5.3 l1.8,5.3 l-1.8,5.3z"/>
    <path d="M633.8,574.9 l-5.3,-10.3 l5.3,1.8 l5.3,-1.8z"/>
    <path d="M690.4,645.4 l-10.3,-5.3 l1.8,5.3 l-1.8,5.3z"/>
    <path d="M839.8,530.6 l-10.3,-5.3 l1.8,5.3 l-1.8,5.3z"/>
    <path d="M839.8,595.6 l-10.3,-5.3 l1.8,5.3 l-1.8,5.3z"/>
    <path d="M939.3,509 l-10.3,-5.3 l1.8,5.3 l-1.8,5.3z"/>
    <path d="M939.3,640.6 l-10.3,-5.3 l1.8,5.3 l-1.8,5.3z"/>
    <path d="M1040.8,546.5 l-10.3,-5.3 l1.8,5.3 l-1.8,5.3z"/>
    <path d="M1040.8,601.3 l-10.3,-5.3 l1.8,5.3 l-1.8,5.3z"/>
    <path d="M1154.7,573.4 l-10.3,-5.3 l1.8,5.3 l-1.8,5.3z"/>
  </g>
  <text x="623.5" y="765.5" class="serif" font-weight="bold" font-size="33" text-anchor="middle">(c)</text>
</g>
</svg>
</body></html>
